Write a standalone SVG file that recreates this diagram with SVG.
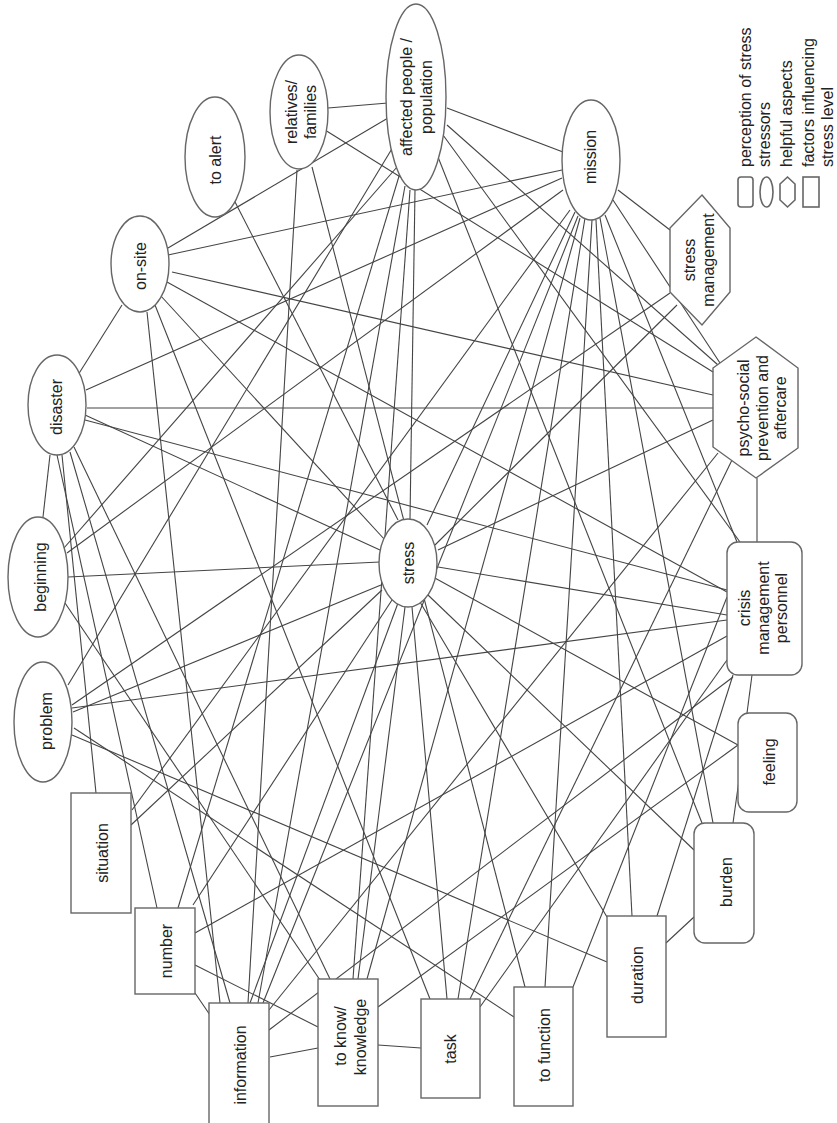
<svg xmlns="http://www.w3.org/2000/svg" width="837" height="1123" viewBox="0 0 837 1123">
<style>
.e line{stroke:#444;stroke-width:1.1;fill:none}
.n{fill:#fff;stroke:#666;stroke-width:1.4}
.lg{fill:#fff;stroke:#666;stroke-width:1.6}
text{font-family:"Liberation Sans",Arial,sans-serif;font-size:16px;fill:#222;text-anchor:middle;dominant-baseline:central}
.lt{text-anchor:start}
</style>
<rect width="837" height="1123" fill="#fff"/>
<g id="connectors" class="e">
<line x1="328" y1="108" x2="388" y2="103"/>
<line x1="447" y1="108" x2="563" y2="152"/>
<line x1="415" y1="190" x2="410" y2="519"/>
<line x1="410" y1="190" x2="353" y2="979"/>
<line x1="403" y1="163" x2="178" y2="908"/>
<line x1="393" y1="147" x2="68" y2="685"/>
<line x1="397" y1="167" x2="64" y2="548"/>
<line x1="388" y1="118" x2="168" y2="248"/>
<line x1="447" y1="125" x2="718" y2="365"/>
<line x1="443" y1="135" x2="740" y2="542"/>
<line x1="438" y1="157" x2="702" y2="823"/>
<line x1="405" y1="186" x2="258" y2="1003"/>
<line x1="297" y1="170" x2="248" y2="1003"/>
<line x1="312" y1="167" x2="525" y2="987"/>
<line x1="325" y1="130" x2="713" y2="372"/>
<line x1="233" y1="198" x2="398" y2="520"/>
<line x1="168" y1="255" x2="562" y2="170"/>
<line x1="172" y1="272" x2="713" y2="395"/>
<line x1="167" y1="282" x2="727" y2="592"/>
<line x1="160" y1="295" x2="385" y2="540"/>
<line x1="147" y1="312" x2="220" y2="1003"/>
<line x1="155" y1="305" x2="430" y2="999"/>
<line x1="78" y1="375" x2="122" y2="305"/>
<line x1="87" y1="408" x2="713" y2="408"/>
<line x1="86" y1="390" x2="562" y2="178"/>
<line x1="50" y1="455" x2="43" y2="517"/>
<line x1="62" y1="455" x2="96" y2="793"/>
<line x1="57" y1="455" x2="157" y2="908"/>
<line x1="85" y1="415" x2="380" y2="550"/>
<line x1="85" y1="420" x2="727" y2="590"/>
<line x1="70" y1="452" x2="230" y2="1003"/>
<line x1="74" y1="447" x2="330" y2="979"/>
<line x1="68" y1="577" x2="380" y2="562"/>
<line x1="563" y1="190" x2="67" y2="553"/>
<line x1="65" y1="603" x2="320" y2="980"/>
<line x1="73" y1="712" x2="381" y2="585"/>
<line x1="72" y1="708" x2="727" y2="620"/>
<line x1="72" y1="735" x2="607" y2="962"/>
<line x1="74" y1="728" x2="514" y2="1017"/>
<line x1="757" y1="478" x2="757" y2="542"/>
<line x1="752" y1="675" x2="747" y2="713"/>
<line x1="740" y1="773" x2="733" y2="823"/>
<line x1="694" y1="917" x2="666" y2="943"/>
<line x1="596" y1="220" x2="632" y2="916"/>
<line x1="592" y1="220" x2="545" y2="987"/>
<line x1="585" y1="218" x2="458" y2="999"/>
<line x1="575" y1="212" x2="427" y2="525"/>
<line x1="618" y1="190" x2="670" y2="230"/>
<line x1="613" y1="200" x2="720" y2="363"/>
<line x1="600" y1="218" x2="713" y2="823"/>
<line x1="605" y1="215" x2="737" y2="542"/>
<line x1="570" y1="210" x2="132" y2="810"/>
<line x1="580" y1="218" x2="367" y2="979"/>
<line x1="578" y1="216" x2="263" y2="1003"/>
<line x1="657" y1="916" x2="733" y2="675"/>
<line x1="573" y1="987" x2="727" y2="597"/>
<line x1="480" y1="1007" x2="727" y2="660"/>
<line x1="195" y1="933" x2="727" y2="636"/>
<line x1="193" y1="905" x2="392" y2="600"/>
<line x1="195" y1="993" x2="210" y2="1015"/>
<line x1="195" y1="965" x2="318" y2="1027"/>
<line x1="438" y1="550" x2="713" y2="420"/>
<line x1="438" y1="567" x2="727" y2="615"/>
<line x1="433" y1="577" x2="738" y2="745"/>
<line x1="428" y1="595" x2="694" y2="850"/>
<line x1="420" y1="602" x2="607" y2="917"/>
<line x1="412" y1="607" x2="447" y2="999"/>
<line x1="405" y1="607" x2="358" y2="979"/>
<line x1="398" y1="603" x2="250" y2="1003"/>
<line x1="382" y1="590" x2="131" y2="825"/>
<line x1="670" y1="293" x2="72" y2="705"/>
<line x1="677" y1="305" x2="435" y2="545"/>
<line x1="270" y1="1057" x2="318" y2="1048"/>
<line x1="269" y1="1010" x2="718" y2="453"/>
<line x1="269" y1="1030" x2="733" y2="677"/>
<line x1="378" y1="1045" x2="421" y2="1048"/>
<line x1="378" y1="1007" x2="738" y2="745"/>
<line x1="732" y1="460" x2="470" y2="999"/>
</g>
<g id="n-affected"><ellipse class="n" cx="416" cy="97" rx="30" ry="93"/><text transform="translate(406,97) rotate(-90)">affected people /</text><text transform="translate(426,97) rotate(-90)">population</text></g>
<g id="n-relatives"><ellipse class="n" cx="299" cy="112" rx="29" ry="57"/><text transform="translate(291,112) rotate(-90)">relatives/</text><text transform="translate(310,112) rotate(-90)">families</text></g>
<g id="n-alert"><ellipse class="n" cx="215" cy="157" rx="30" ry="60"/><text transform="translate(215,160) rotate(-90)">to alert</text></g>
<g id="n-onsite"><ellipse class="n" cx="140" cy="264" rx="29" ry="48"/><text transform="translate(140,266) rotate(-90)">on-site</text></g>
<g id="n-disaster"><ellipse class="n" cx="57" cy="405" rx="29" ry="50"/><text transform="translate(56,407) rotate(-90)">disaster</text></g>
<g id="n-beginning"><ellipse class="n" cx="38" cy="577" rx="30" ry="60"/><text transform="translate(40,577) rotate(-90)">beginning</text></g>
<g id="n-problem"><ellipse class="n" cx="43" cy="722" rx="29" ry="60"/><text transform="translate(46,721) rotate(-90)">problem</text></g>
<g id="n-stress"><ellipse class="n" cx="408" cy="563" rx="29" ry="44"/><text transform="translate(408,563) rotate(-90)">stress</text></g>
<g id="n-mission"><ellipse class="n" cx="591" cy="160" rx="29" ry="60"/><text transform="translate(590,157) rotate(-90)">mission</text></g>
<g id="n-stressmgmt"><polygon class="n" points="702,195 730,228 730,292 702,325 670,292 670,228"/><text transform="translate(689,260) rotate(-90)">stress</text><text transform="translate(708,260) rotate(-90)">management</text></g>
<g id="n-psycho"><polygon class="n" points="756,337 798,368 798,448 756,478 713,447 713,368"/><text transform="translate(743,408) rotate(-90)">psycho-social</text><text transform="translate(762,408) rotate(-90)">prevention and</text><text transform="translate(780,408) rotate(-90)">aftercare</text></g>
<g id="n-crisis"><rect class="n" x="727" y="542" width="75" height="133" rx="11"/><text transform="translate(744,608) rotate(-90)">crisis</text><text transform="translate(763,608) rotate(-90)">management</text><text transform="translate(781,608) rotate(-90)">personnel</text></g>
<g id="n-feeling"><rect class="n" x="738" y="713" width="59" height="99" rx="11"/><text transform="translate(769,762) rotate(-90)">feeling</text></g>
<g id="n-burden"><rect class="n" x="694" y="823" width="60" height="120" rx="11"/><text transform="translate(726,882) rotate(-90)">burden</text></g>
<g id="n-duration"><rect class="n" x="607" y="916" width="59" height="121"/><text transform="translate(637,975) rotate(-90)">duration</text></g>
<g id="n-function"><rect class="n" x="514" y="987" width="59" height="119"/><text transform="translate(544,1045) rotate(-90)">to function</text></g>
<g id="n-task"><rect class="n" x="421" y="999" width="59" height="99"/><text transform="translate(450,1049) rotate(-90)">task</text></g>
<g id="n-know"><rect class="n" x="318" y="979" width="60" height="127"/><text transform="translate(340,1036) rotate(-90)">to know/</text><text transform="translate(360,1037) rotate(-90)">knowledge</text></g>
<g id="n-information"><rect class="n" x="209" y="1003" width="60" height="135"/><text transform="translate(240,1065) rotate(-90)">information</text></g>
<g id="n-number"><rect class="n" x="135" y="908" width="60" height="86"/><text transform="translate(166,951) rotate(-90)">number</text></g>
<g id="n-situation"><rect class="n" x="71" y="793" width="60" height="120"/><text transform="translate(102,853) rotate(-90)">situation</text></g>
<g id="legend">
<rect class="lg" x="738" y="177" width="15" height="30" rx="3"/>
<ellipse class="lg" cx="766.5" cy="192" rx="6.5" ry="15"/>
<polygon class="lg" points="787.5,177 795,184 795,200 787.5,207 780,200 780,184"/>
<rect class="lg" x="803" y="177" width="16" height="30"/>
<text class="lt" transform="translate(745,167) rotate(-90)">perception of stress</text>
<text class="lt" transform="translate(764,167) rotate(-90)">stressors</text>
<text class="lt" transform="translate(786,167) rotate(-90)">helpful aspects</text>
<text class="lt" transform="translate(808,167) rotate(-90)">factors influencing</text>
<text class="lt" transform="translate(827,167) rotate(-90)">stress level</text>
</g>
</svg>
